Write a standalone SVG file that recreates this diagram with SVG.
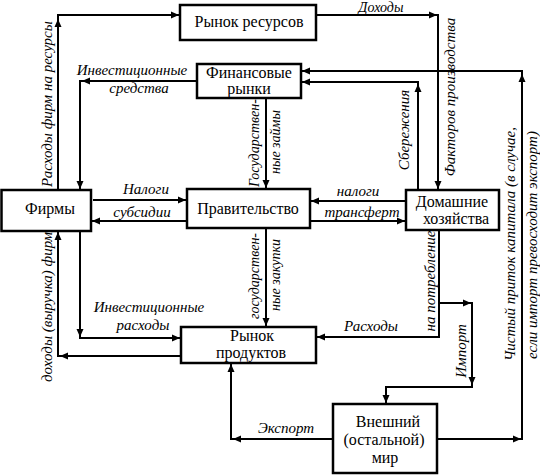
<svg xmlns="http://www.w3.org/2000/svg" xmlns:xlink="http://www.w3.org/1999/xlink" width="540" height="475" viewBox="0 0 540 475">
<style>
.box{fill:#fff;stroke:#000;stroke-width:2.5}
.c{fill:none;stroke:#000;stroke-width:2}
</style>
<defs>
<path id="ah" d="M0,0 L-8,-3.5 L-8,3.5 Z" fill="#000"/>
</defs>
<rect width="540" height="475" fill="#fff"/>
<g id="connectors">
<path class="c" d="M58,190 V15 H180"/>
<path class="c" d="M316,15 H438 V190"/>
<path class="c" d="M418,190 V82 H301"/>
<path class="c" d="M437,439 H522 V71 H301"/>
<path class="c" d="M197,81 H80 V190"/>
<path class="c" d="M266,98 V189"/>
<path class="c" d="M266,228 V327"/>
<path class="c" d="M93,200 H187"/>
<path class="c" d="M187,221 H91"/>
<path class="c" d="M406,201 H310"/>
<path class="c" d="M310,221 H406"/>
<path class="c" d="M439,230 V337 H316"/>
<path class="c" d="M439,303 H472 V387 H386 V404"/>
<path class="c" d="M333,439 H231 V363"/>
<path class="c" d="M80,231 V338 H181"/>
<path class="c" d="M181,356 H58 V231"/>
<use xlink:href="#ah" transform="translate(58,19) rotate(-90)"/>
<use xlink:href="#ah" transform="translate(179,15)"/>
<use xlink:href="#ah" transform="translate(437,15)"/>
<use xlink:href="#ah" transform="translate(438,189) rotate(90)"/>
<use xlink:href="#ah" transform="translate(418,84) rotate(-90)"/>
<use xlink:href="#ah" transform="translate(302,82) rotate(180)"/>
<use xlink:href="#ah" transform="translate(521,439)"/>
<use xlink:href="#ah" transform="translate(522,74) rotate(-90)"/>
<use xlink:href="#ah" transform="translate(302,71) rotate(180)"/>
<use xlink:href="#ah" transform="translate(82,81) rotate(180)"/>
<use xlink:href="#ah" transform="translate(80,189) rotate(90)"/>
<use xlink:href="#ah" transform="translate(266,188) rotate(90)"/>
<use xlink:href="#ah" transform="translate(266,326) rotate(90)"/>
<use xlink:href="#ah" transform="translate(186,200)"/>
<use xlink:href="#ah" transform="translate(92,221) rotate(180)"/>
<use xlink:href="#ah" transform="translate(311,201) rotate(180)"/>
<use xlink:href="#ah" transform="translate(405,221)"/>
<use xlink:href="#ah" transform="translate(317,337) rotate(180)"/>
<use xlink:href="#ah" transform="translate(471,303)"/>
<use xlink:href="#ah" transform="translate(472,385) rotate(90)"/>
<use xlink:href="#ah" transform="translate(386,403) rotate(90)"/>
<use xlink:href="#ah" transform="translate(233,439) rotate(180)"/>
<use xlink:href="#ah" transform="translate(231,364) rotate(-90)"/>
<use xlink:href="#ah" transform="translate(80,337) rotate(90)"/>
<use xlink:href="#ah" transform="translate(180,338)"/>
<use xlink:href="#ah" transform="translate(60,356) rotate(180)"/>
<use xlink:href="#ah" transform="translate(58,232) rotate(-90)"/>
<text x="381" y="12" font-family="'Liberation Serif', serif" font-style="italic" font-size="14" text-anchor="middle">Доходы</text>
<text x="132" y="75" font-family="'Liberation Serif', serif" font-style="italic" font-size="15" text-anchor="middle">Инвестиционные</text>
<text x="139" y="93" font-family="'Liberation Serif', serif" font-style="italic" font-size="15" text-anchor="middle">средства</text>
<text x="146" y="194" font-family="'Liberation Serif', serif" font-style="italic" font-size="15" text-anchor="middle">Налоги</text>
<text x="142" y="217" font-family="'Liberation Serif', serif" font-style="italic" font-size="15" text-anchor="middle">субсидии</text>
<text x="358" y="196" font-family="'Liberation Serif', serif" font-style="italic" font-size="15" text-anchor="middle">налоги</text>
<text x="362" y="217" font-family="'Liberation Serif', serif" font-style="italic" font-size="15" text-anchor="middle">трансферт</text>
<text x="149" y="312" font-family="'Liberation Serif', serif" font-style="italic" font-size="15" text-anchor="middle">Инвестиционные</text>
<text x="143" y="330" font-family="'Liberation Serif', serif" font-style="italic" font-size="15" text-anchor="middle">расходы</text>
<text x="371" y="331" font-family="'Liberation Serif', serif" font-style="italic" font-size="15" text-anchor="middle">Расходы</text>
<text x="286" y="433" font-family="'Liberation Serif', serif" font-style="italic" font-size="15" text-anchor="middle">Экспорт</text>
<text transform="translate(52,104) rotate(-90)" font-family="'Liberation Serif', serif" font-style="italic" font-size="15" text-anchor="middle">Расходы фирм на ресурсы</text>
<text transform="translate(455,97) rotate(-90)" font-family="'Liberation Serif', serif" font-style="italic" font-size="15" text-anchor="middle">Факторов производства</text>
<text transform="translate(409,130) rotate(-90)" font-family="'Liberation Serif', serif" font-style="italic" font-size="15" text-anchor="middle">Сбережения</text>
<text transform="translate(515,244) rotate(-90)" font-family="'Liberation Serif', serif" font-style="italic" font-size="15" text-anchor="middle">Чистый приток капитала (в случае,</text>
<text transform="translate(537,245) rotate(-90)" font-family="'Liberation Serif', serif" font-style="italic" font-size="15" text-anchor="middle">если импорт превосходит экспорт)</text>
<text transform="translate(259,143) rotate(-90)" font-family="'Liberation Serif', serif" font-style="italic" font-size="14" text-anchor="middle">Государствен-</text>
<text transform="translate(280,142) rotate(-90)" font-family="'Liberation Serif', serif" font-style="italic" font-size="14" text-anchor="middle">ные займы</text>
<text transform="translate(259,276) rotate(-90)" font-family="'Liberation Serif', serif" font-style="italic" font-size="14" text-anchor="middle">государствен-</text>
<text transform="translate(280,275) rotate(-90)" font-family="'Liberation Serif', serif" font-style="italic" font-size="14" text-anchor="middle">ные закупки</text>
<text transform="translate(435,281) rotate(-90)" font-family="'Liberation Serif', serif" font-style="italic" font-size="15" text-anchor="middle">на потребление</text>
<text transform="translate(466,351) rotate(-90)" font-family="'Liberation Serif', serif" font-style="italic" font-size="15" text-anchor="middle">Импорт</text>
<text transform="translate(52,307) rotate(-90)" font-family="'Liberation Serif', serif" font-style="italic" font-size="15" text-anchor="middle">доходы (выручка) фирм</text>
</g>
<g id="resource-market">
<rect class="box" x="180" y="5" width="136" height="35"/>
<text x="249" y="27" font-family="'Liberation Serif', serif" font-size="16" text-anchor="middle">Рынок ресурсов</text>
</g>
<g id="financial-markets">
<rect class="box" x="197" y="64" width="104" height="34"/>
<text x="249" y="78" font-family="'Liberation Serif', serif" font-size="16" text-anchor="middle">Финансовые</text>
<text x="249" y="94" font-family="'Liberation Serif', serif" font-size="16" text-anchor="middle">рынки</text>
</g>
<g id="firms">
<rect class="box" x="1.5" y="190" width="89.5" height="41"/>
<text x="50" y="214" font-family="'Liberation Serif', serif" font-size="16" text-anchor="middle">Фирмы</text>
</g>
<g id="government">
<rect class="box" x="187" y="189" width="123" height="39"/>
<text x="248" y="214" font-family="'Liberation Serif', serif" font-size="16" text-anchor="middle">Правительство</text>
</g>
<g id="households">
<rect class="box" x="406" y="190" width="93" height="40"/>
<text x="452" y="207" font-family="'Liberation Serif', serif" font-size="16" text-anchor="middle">Домашние</text>
<text x="456" y="224" font-family="'Liberation Serif', serif" font-size="16" text-anchor="middle">хозяйства</text>
</g>
<g id="product-market">
<rect class="box" x="181" y="327" width="135" height="36"/>
<text x="252" y="341" font-family="'Liberation Serif', serif" font-size="16" text-anchor="middle">Рынок</text>
<text x="251" y="358" font-family="'Liberation Serif', serif" font-size="16" text-anchor="middle">продуктов</text>
</g>
<g id="rest-of-world">
<rect class="box" x="333" y="404" width="104" height="69"/>
<text x="388" y="427" font-family="'Liberation Serif', serif" font-size="16" text-anchor="middle">Внешний</text>
<text x="384" y="445" font-family="'Liberation Serif', serif" font-size="16" text-anchor="middle">(остальной)</text>
<text x="385" y="463" font-family="'Liberation Serif', serif" font-size="16" text-anchor="middle">мир</text>
</g>
</svg>
